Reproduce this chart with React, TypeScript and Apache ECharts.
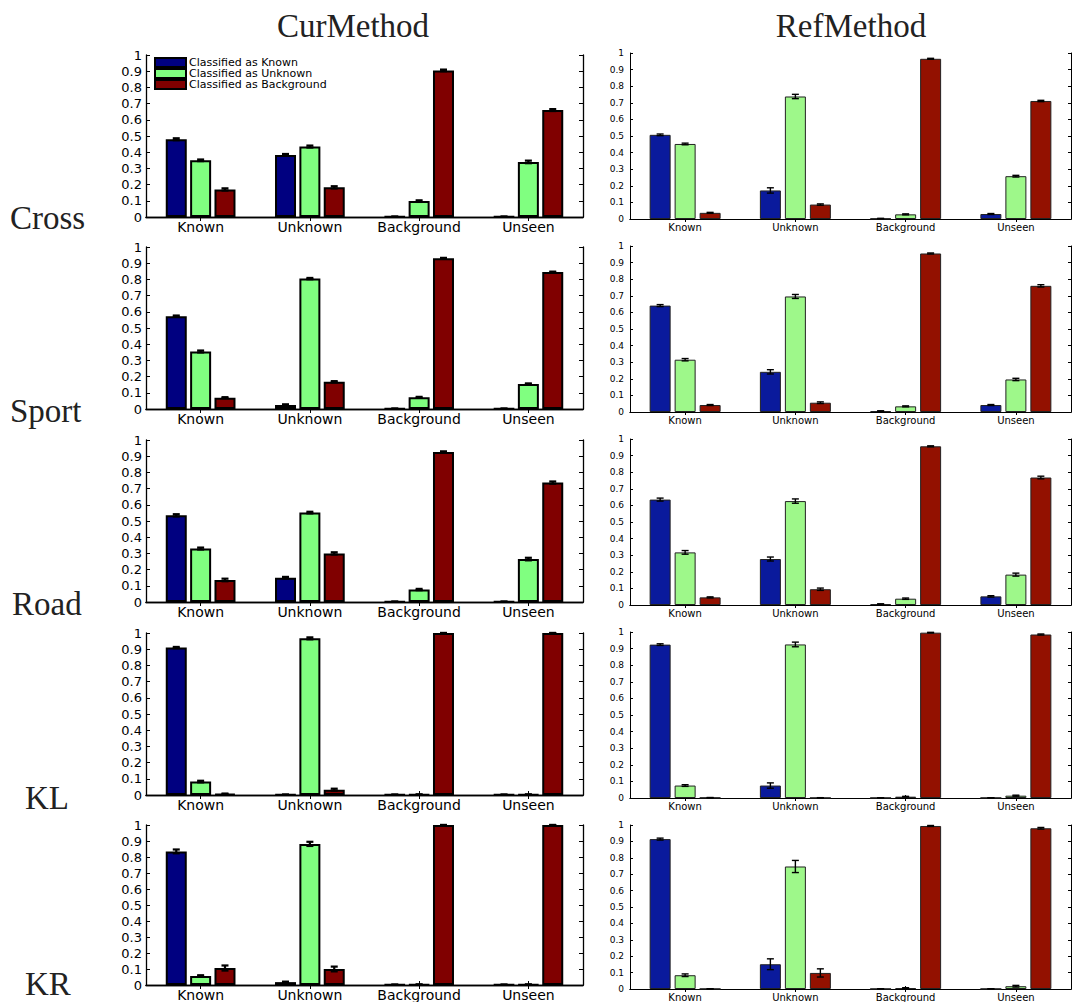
import React, { useEffect, useRef } from 'react';
import * as echarts from 'echarts';

// ---------- data ----------
const categories = ['Known', 'Unknown', 'Background', 'Unseen'];
const seriesNames = ['Classified as Known', 'Classified as Unknown', 'Classified as Background'];
const rowLabels = ['Cross', 'Sport', 'Road', 'KL', 'KR'];
const columnTitles = ['CurMethod', 'RefMethod'];

// each: [Classified as Known[], Classified as Unknown[], Classified as Background[]] per category
const crossCur = [[0.48, 0.383, 0.002, 0.002], [0.35, 0.435, 0.098, 0.34], [0.17, 0.183, 0.905, 0.66]];
const crossCurErr = [[0.006, 0.006, 0.001, 0.001], [0.005, 0.006, 0.005, 0.008], [0.007, 0.007, 0.005, 0.006]];
const crossRef = [[0.507, 0.172, 0.003, 0.03], [0.452, 0.738, 0.028, 0.258], [0.037, 0.087, 0.965, 0.711]];
const crossRefErr = [[0.005, 0.016, 0.001, 0.003], [0.005, 0.013, 0.003, 0.005], [0.003, 0.004, 0.003, 0.004]];

const sportCur = [[0.573, 0.025, 0.002, 0.002], [0.355, 0.805, 0.072, 0.155], [0.07, 0.168, 0.93, 0.845]];
const sportCurErr = [[0.004, 0.004, 0.001, 0.001], [0.006, 0.004, 0.003, 0.003], [0.003, 0.004, 0.003, 0.003]];
const sportRef = [[0.641, 0.242, 0.006, 0.042], [0.315, 0.696, 0.034, 0.196], [0.042, 0.056, 0.955, 0.76]];
const sportRefErr = [[0.006, 0.013, 0.001, 0.003], [0.007, 0.012, 0.003, 0.007], [0.003, 0.005, 0.003, 0.007]];

const roadCur = [[0.535, 0.15, 0.002, 0.002], [0.33, 0.552, 0.077, 0.265], [0.136, 0.3, 0.926, 0.737]];
const roadCurErr = [[0.007, 0.005, 0.001, 0.001], [0.006, 0.005, 0.004, 0.008], [0.008, 0.007, 0.004, 0.007]];
const roadRef = [[0.635, 0.277, 0.006, 0.052], [0.317, 0.626, 0.038, 0.183], [0.046, 0.095, 0.956, 0.768]];
const roadRefErr = [[0.009, 0.012, 0.001, 0.004], [0.011, 0.013, 0.004, 0.009], [0.003, 0.007, 0.003, 0.008]];

const klCur = [[0.91, 0.002, 0.002, 0.002], [0.083, 0.967, 0.003, 0.003], [0.007, 0.033, 1.0, 1.0]];
const klCurErr = [[0.004, 0.001, 0.001, 0.001], [0.005, 0.006, 0.001, 0.001], [0.002, 0.006, 0.0, 0.0]];
const klRef = [[0.924, 0.075, 0.001, 0.001], [0.075, 0.925, 0.008, 0.014], [0.002, 0.001, 0.996, 0.985]];
const klRefErr = [[0.005, 0.016, 0.0, 0.0], [0.005, 0.014, 0.002, 0.003], [0.001, 0.001, 0.002, 0.003]];

const krCur = [[0.835, 0.018, 0.002, 0.002], [0.057, 0.882, 0.003, 0.003], [0.106, 0.1, 1.0, 1.0]];
const krCurErr = [[0.012, 0.003, 0.001, 0.001], [0.004, 0.013, 0.001, 0.001], [0.016, 0.015, 0.0, 0.0]];
const krRef = [[0.914, 0.151, 0.001, 0.001], [0.084, 0.747, 0.006, 0.017], [0.001, 0.098, 0.994, 0.98]];
const krRefErr = [[0.006, 0.033, 0.0, 0.0], [0.008, 0.037, 0.002, 0.005], [0.0, 0.025, 0.003, 0.005]];

const panelValues = [
  [crossCur, crossRef],
  [sportCur, sportRef],
  [roadCur, roadRef],
  [klCur, klRef],
  [krCur, krRef],
];
const panelErrors = [
  [crossCurErr, crossRefErr],
  [sportCurErr, sportRefErr],
  [roadCurErr, roadRefErr],
  [klCurErr, klRefErr],
  [krCurErr, krRefErr],
];

// ---------- layout / style ----------
const colLayout = [
  { left: 146, width: 437, tops: [55, 247, 440, 633, 825], height: 162 },
  { left: 630, width: 441, tops: [53, 246, 439, 632, 825], height: 166 },
];
const colStyle = [
  {
    colors: ['#000080', '#80ff80', '#800000'],
    border: '#000', borderWidth: 2, barWidth: 21, gap: 0.16,
    axisW: 1.3, tickFont: 13, catFont: 14, errW: 2.2, cap: 3.5, tickLen: 4,
  },
  {
    colors: ['#0a1a9c', '#9ef88a', '#931100'],
    border: '#222', borderWidth: 1, barWidth: 21, gap: 0.19,
    axisW: 1, tickFont: 9, catFont: 10, errW: 1.4, cap: 3.5, tickLen: 3,
  },
];
const rowLabelPos = [
  { x: 10, y: 218 }, { x: 10, y: 411 }, { x: 12, y: 604 }, { x: 25, y: 798 }, { x: 25, y: 984 },
];
const titlePos = [{ x: 353, y: 26 }, { x: 851, y: 26 }];

const sans = 'DejaVu Sans';
const serif = 'Liberation Serif';

function buildOption() {
  const grid: any[] = [];
  const xAxis: any[] = [];
  const yAxis: any[] = [];
  const series: any[] = [];
  let p = 0;
  for (let r = 0; r < rowLabels.length; r++) {
    for (let c = 0; c < 2; c++) {
      const L = colLayout[c];
      const S = colStyle[c];
      grid.push({ left: L.left, top: L.tops[r], width: L.width, height: L.height, containLabel: false });
      const line = { show: true, lineStyle: { color: '#000', width: S.axisW } };
      xAxis.push({
        type: 'category', gridIndex: p, data: categories, position: 'bottom',
        axisLine: line,
        axisTick: { show: true, inside: true, alignWithLabel: true, length: S.tickLen, lineStyle: { color: '#000' } },
        axisLabel: { color: '#000', fontFamily: sans, fontSize: S.catFont, margin: 3 },
      });
      xAxis.push({
        type: 'category', gridIndex: p, data: categories, position: 'top',
        axisLine: line,
        axisTick: { show: true, inside: true, alignWithLabel: true, length: S.tickLen, lineStyle: { color: '#000' } },
        axisLabel: { show: false },
      });
      const yBase = {
        type: 'value', gridIndex: p, min: 0, max: 1, interval: 0.1,
        splitLine: { show: false },
        axisLine: line,
        axisTick: { show: true, inside: true, length: S.tickLen, lineStyle: { color: '#000' } },
      };
      yAxis.push({
        ...yBase, position: 'left',
        axisLabel: {
          color: '#000', fontFamily: sans, fontSize: S.tickFont, margin: c === 0 ? 4 : 6,
          formatter: (v: number) => String(Math.round(v * 10) / 10),
        },
      });
      yAxis.push({ ...yBase, position: 'right', axisLabel: { show: false } });

      const vals = panelValues[r][c];
      const errs = panelErrors[r][c];
      for (let s = 0; s < 3; s++) {
        series.push({
          type: 'bar', name: seriesNames[s], xAxisIndex: 2 * p, yAxisIndex: 2 * p,
          data: vals[s], barWidth: S.barWidth, barGap: `${Math.round(S.gap * 100)}%`,
          itemStyle: { color: S.colors[s], borderColor: S.border, borderWidth: S.borderWidth },
          emphasis: { disabled: true },
        });
      }
      const errData: number[][] = [];
      for (let s = 0; s < 3; s++) {
        for (let k = 0; k < categories.length; k++) {
          errData.push([k, Math.max(0, vals[s][k] - errs[s][k]), Math.min(1, vals[s][k] + errs[s][k]), s]);
        }
      }
      const spacing = S.barWidth * (1 + S.gap);
      series.push({
        type: 'custom', name: 'errorbar', xAxisIndex: 2 * p, yAxisIndex: 2 * p, z: 5,
        data: errData, encode: { x: 0, y: [1, 2] }, clip: false,
        renderItem: (params: any, api: any) => {
          const k = api.value(0);
          const lo = api.coord([k, api.value(1)]);
          const hi = api.coord([k, api.value(2)]);
          const x = lo[0] + (api.value(3) - 1) * spacing;
          const st = { stroke: '#000', lineWidth: S.errW };
          return {
            type: 'group',
            children: [
              { type: 'line', shape: { x1: x, y1: hi[1], x2: x, y2: lo[1] }, style: st },
              { type: 'line', shape: { x1: x - S.cap, y1: hi[1], x2: x + S.cap, y2: hi[1] }, style: st },
              { type: 'line', shape: { x1: x - S.cap, y1: lo[1], x2: x + S.cap, y2: lo[1] }, style: st },
            ],
          };
        },
      });
      p++;
    }
  }

  const graphic: any[] = [];
  columnTitles.forEach((t, i) => {
    graphic.push({
      type: 'text', x: titlePos[i].x, y: titlePos[i].y,
      style: { text: t, font: `33px "${serif}"`, fill: '#222', align: 'center', verticalAlign: 'middle' },
    });
  });
  rowLabels.forEach((t, i) => {
    graphic.push({
      type: 'text', x: rowLabelPos[i].x, y: rowLabelPos[i].y,
      style: { text: t, font: `33px "${serif}"`, fill: '#222', align: 'left', verticalAlign: 'middle' },
    });
  });

  return {
    animation: false,
    backgroundColor: '#fff',
    grid, xAxis, yAxis, series, graphic,
    legend: {
      orient: 'vertical', left: 154, top: 57, padding: 0,
      itemWidth: 31, itemHeight: 9, itemGap: 0,
      data: seriesNames.map((n, i) => ({
        name: n, icon: 'rect',
        itemStyle: { color: colStyle[0].colors[i], borderColor: '#000', borderWidth: 2 },
      })),
      textStyle: { color: '#000', fontFamily: sans, fontSize: 11, lineHeight: 11, padding: [0, 0, 0, -2] },
      selectedMode: false,
    },
  };
}

export default function App() {
  const ref = useRef<HTMLDivElement>(null);
  useEffect(() => {
    document.body.style.margin = '0';
    if (!ref.current) return;
    const chart = echarts.init(ref.current, null, { renderer: 'svg' });
    chart.setOption(buildOption() as any);
    return () => chart.dispose();
  }, []);
  return <div ref={ref} style={{ width: 1073, height: 1002 }} />;
}
